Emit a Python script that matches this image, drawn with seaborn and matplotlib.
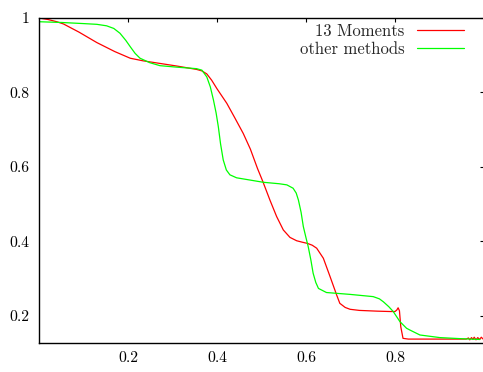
import matplotlib
matplotlib.use("Agg")
import matplotlib.pyplot as plt
import seaborn as sns
import pandas as pd

# ---- data ----
series_names = ["13 Moments", "other methods"]

red_x = [0.000, 0.020, 0.040, 0.055, 0.090, 0.130, 0.170, 0.205, 0.234, 0.272,
         0.310, 0.354, 0.366, 0.377, 0.388, 0.400, 0.422, 0.440, 0.459, 0.475,
         0.491, 0.503, 0.519, 0.534, 0.549, 0.564, 0.579, 0.592, 0.603, 0.614,
         0.624, 0.639, 0.654, 0.669, 0.676, 0.688, 0.699, 0.720, 0.760, 0.789,
         0.800, 0.804, 0.807, 0.810, 0.813, 0.818, 0.830, 0.880, 0.930, 0.960,
         0.965, 0.968, 0.972, 0.975, 0.978, 0.982, 0.986, 0.990, 0.994, 0.998]
red_y = [1.000, 0.996, 0.990, 0.984, 0.962, 0.934, 0.910, 0.892, 0.885, 0.878,
         0.871, 0.862, 0.858, 0.850, 0.833, 0.810, 0.771, 0.732, 0.690, 0.648,
         0.596, 0.561, 0.511, 0.467, 0.431, 0.411, 0.402, 0.398, 0.395, 0.390,
         0.382, 0.355, 0.306, 0.256, 0.234, 0.223, 0.218, 0.215, 0.213, 0.212,
         0.212, 0.216, 0.222, 0.214, 0.171, 0.140, 0.138, 0.138, 0.138, 0.138,
         0.141, 0.136, 0.142, 0.137, 0.143, 0.136, 0.142, 0.137, 0.143, 0.138]

green_x = [0.000, 0.050, 0.100, 0.130, 0.152, 0.168, 0.182, 0.195, 0.205, 0.216,
           0.227, 0.249, 0.272, 0.310, 0.354, 0.366, 0.377, 0.385, 0.392, 0.398,
           0.403, 0.408, 0.414, 0.421, 0.429, 0.444, 0.474, 0.504, 0.540, 0.557,
           0.571, 0.578, 0.583, 0.589, 0.594, 0.600, 0.605, 0.611, 0.616, 0.622,
           0.628, 0.646, 0.699, 0.751, 0.765, 0.774, 0.786, 0.796, 0.811, 0.826,
           0.834, 0.856, 0.901, 0.950, 0.991]
green_y = [0.990, 0.988, 0.985, 0.983, 0.979, 0.972, 0.959, 0.940, 0.923, 0.905,
           0.892, 0.880, 0.872, 0.868, 0.864, 0.860, 0.842, 0.815, 0.780, 0.745,
           0.708, 0.662, 0.619, 0.592, 0.579, 0.571, 0.565, 0.559, 0.555, 0.552,
           0.543, 0.530, 0.511, 0.478, 0.440, 0.410, 0.386, 0.350, 0.315, 0.290,
           0.274, 0.263, 0.258, 0.252, 0.246, 0.238, 0.225, 0.212, 0.185, 0.167,
           0.162, 0.149, 0.142, 0.139, 0.137]

x_ticks = [0.2, 0.4, 0.6, 0.8]
x_tick_labels = ["0.2", "0.4", "0.6", "0.8"]
y_ticks = [0.2, 0.4, 0.6, 0.8, 1.0]
y_tick_labels = ["0.2", "0.4", "0.6", "0.8", "1"]

# ---- build long table ----
df = pd.concat([
    pd.DataFrame({"x": red_x, "y": red_y, "series": series_names[0]}),
    pd.DataFrame({"x": green_x, "y": green_y, "series": series_names[1]}),
], ignore_index=True)

sns.set_style("white")
plt.rcParams["font.family"] = ["cmr10", "DejaVu Serif"]
plt.rcParams["axes.formatter.use_mathtext"] = True

fig = plt.figure(figsize=(4.83, 3.72), dpi=100)
ax = fig.add_axes([39 / 483, 29 / 372, 445 / 483, 325 / 372])

sns.lineplot(data=df, x="x", y="y", hue="series", hue_order=series_names,
             palette=["#ff0000", "#00ff00"], estimator=None, sort=False,
             linewidth=0.9, ax=ax)

ax.set_xlim(0.0, 1.0)
ax.set_ylim(0.1275, 1.0)
ax.set_xticks(x_ticks)
ax.set_xticklabels(x_tick_labels)
ax.set_yticks(y_ticks)
ax.set_yticklabels(y_tick_labels)
ax.set_xlabel("")
ax.set_ylabel("")

for s in ax.spines.values():
    s.set_visible(True)
    s.set_color("black")
    s.set_linewidth(1.0)

ax.tick_params(axis="both", which="both", direction="in", length=3,
               width=0.8, color="black", top=True, right=True,
               labelsize=11.3, labelcolor="black")
ax.tick_params(axis="x", pad=6)
ax.tick_params(axis="y", pad=7)

leg = ax.legend(loc="upper right", bbox_to_anchor=(0.955, 0.984),
                frameon=False, markerfirst=False, fontsize=12,
                handlelength=2.8, handletextpad=0.75, labelspacing=0.17,
                borderpad=0, borderaxespad=0)

fig.savefig("out.png", dpi=100)
